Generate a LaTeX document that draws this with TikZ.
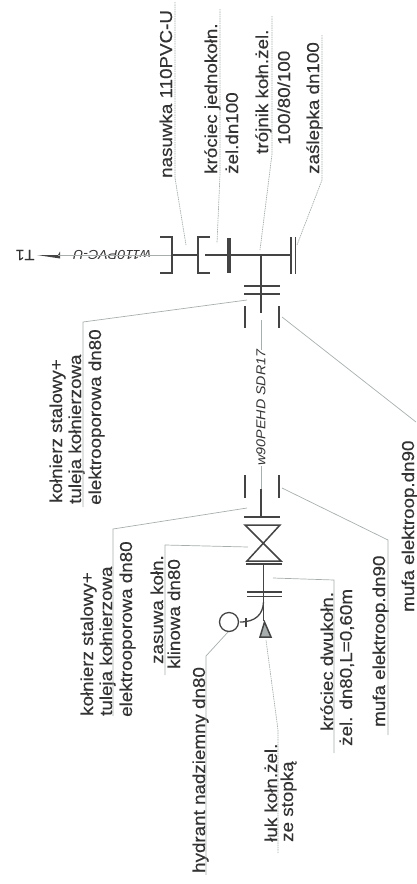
\documentclass[tikz,border=0pt]{standalone}
\usepackage{fontspec}
\setmainfont[FakeStretch=1.09,FakeBold=0.25]{Liberation Sans}
\newfontfamily\pipefont[FakeStretch=1.1,ItalicFont={Liberation Sans Italic},ItalicFeatures={FakeStretch=1.1}]{Liberation Sans}
\definecolor{ink}{HTML}{333333}
\definecolor{pipe}{HTML}{444444}
\definecolor{leader}{HTML}{A8AEAE}
\tikzset{
  lab/.style={rotate=90,anchor=base west,inner sep=0pt,text=ink,font=\fontsize{17.3}{20}\selectfont},
  lineit/.style={inner sep=0pt,text=ink,font=\pipefont\itshape\fontsize{13}{14}\selectfont},
  lead/.style={draw=leader,line width=0.7pt},
  leaddot/.style={lead,densely dashed,dash pattern=on 1.5pt off 0.8pt},
  pipeline/.style={draw=pipe,line width=1.3pt},
  flange/.style={draw=pipe,line width=1.5pt},
  thickfl/.style={draw=pipe,line width=4.5pt},
  centre/.style={draw=leader,line width=0.7pt}
}
\begin{document}
\begin{tikzpicture}[x=1bp,y=-1bp]
\useasboundingbox (0,0) rectangle (416,884);
% ---- labels
\node[lab] (nas) at (172,178) {nasuwka 110PVC-U};
\node[lab] (kj1) at (217,174) {króciec jednokołn.};
\node[lab] (kj2) at (238,174) {żel.dn100};
\node[lab] (tr1) at (268,154) {trójnik kołn.żel.};
\node[lab] (tr2) at (290,145) {100/80/100};
\node[lab] (zas) at (319,174) {zaślepka dn100};
\node[lab] (ka1) at (62,503) {kołnierz stalowy+};
\node[lab] (ka2) at (81,504) {tuleja kołnierzowa};
\node[lab] (ka3) at (101,505) {elektrooporowa dn80};
\node[lab] (kb1) at (93,716) {kołnierz stalowy+};
\node[lab] (kb2) at (112,716) {tuleja kołnierzowa};
\node[lab] (kb3) at (132,717) {elektrooporowa dn80};
\node[lab] (zs1) at (163,664) {zasuwa kołn.};
\node[lab] (zs2) at (180,669) {klinowa dn80};
\node[lab] (hyd) at (205,873) {hydrant nadziemny dn80};
\node[lab] (lu1) at (277,842) {łuk kołn.żel.};
\node[lab] (lu2) at (293,842) {ze stopką};
\node[lab] (kd1) at (333,731) {króciec dwukołn.};
\node[lab] (kd2) at (352,746) {żel. dn80,L=0,60m};
\node[lab] (mu1) at (385,727) {mufa elektroop.dn90};
\node[lab] (mu2) at (414,612) {mufa elektroop.dn90};
\node[lineit,rotate=180] (w110) at (112,255) {w110PVC-U};
\node[lineit,rotate=90] (w90) at (261,407.5) {w90PEHD SDR17};
\node[inner sep=0pt,text=ink,rotate=180,font=\fontsize{15}{16}\selectfont] (t1) at (25,255) {T1};
% ---- pipe, top branch
\coordinate (tip) at (58,255);
\coordinate (soL) at (172,255);
\coordinate (soR) at (198,255);
\coordinate (fl1) at (229,255);
\coordinate (tee) at (261,255);
\coordinate (cap) at (291,255);
\fill[pipe] (37,255) -- (tip) -- (60,251.5) -- (60,258.5) -- cycle;
\draw[centre] (tip) -- (w110.west);
\draw[centre] (w110.east) -- (soL);
\draw[pipeline] (160,237) -- (172,237) -- (172,273) -- (160,273);
\draw[pipeline] (210,237) -- (198,237) -- (198,273) -- (210,273);
\draw[pipeline] (soL) -- (soR);
\draw[pipeline] (205,255) -- (fl1) -- (tee) -- (cap);
\draw[thickfl] (229,238) -- (229,273);
\draw[flange] (291,237) -- (291,274);
\draw[flange] (295.5,237) -- (295.5,274);
% ---- tee branch
\draw[pipeline] (tee) -- (261,313);
\draw[flange] (244,286) -- (280,286);
\draw[flange] (244,294) -- (280,294);
\draw[flange] (245,306) -- (245,328);
\draw[flange] (279,306) -- (279,328);
\draw[centre] (261,320) -- (w90.east);
\draw[centre] (w90.west) -- (261,490);
\draw[flange] (245,475) -- (245,498);
\draw[flange] (279,475) -- (279,498);
\draw[pipeline] (261,489) -- (261,516);
\draw[flange] (244,517) -- (280,517);
% ---- valve
\draw[flange,line join=miter] (245,525) -- (280,525) -- (247,561) -- (281,561) -- cycle;
\draw[flange] (246,564) -- (282,564);
% ---- lower pipe, hydrant, bend
\draw[pipeline] (263.5,565) -- (263.5,621);
\draw[flange] (247,592) -- (282,592);
\draw[flange] (247,596.5) -- (282,596.5);
\draw[pipeline] (263.5,602) .. controls (263,614) and (256,622) .. (240,622);
\draw[flange] (246,618) -- (246,627);
\draw[pipeline,fill=white] (229,622) circle (9.5);
\draw[flange,fill=leader,line join=miter] (264.5,622) -- (260,637) -- (271,637) -- cycle;
% ---- leaders
\draw[leaddot] (175,2) -- (175,178) -- (186,245);
\draw[leaddot] (220,9) -- (220,174) -- (217,243);
\draw[leaddot] (272,16) -- (272,154) -- (260,250);
\draw[leaddot] (322,35) -- (322,180) -- (297,245);
\draw[lead] (83,507) -- (83,322) -- (247,300);
\draw[lead] (113,716) -- (113,529) -- (247,508);
\draw[lead] (165,675) -- (165,545) -- (248,547);
\draw[lead] (206,875) -- (206,656) -- (228,632);
\draw[leaddot] (278,853) -- (278,730) -- (266,640);
\draw[lead] (334,753) -- (334,580) -- (273,578);
\draw[lead] (388,735) -- (388,540) -- (282,488);
\draw[lead] (416,422) -- (282,317);
\end{tikzpicture}
\end{document}
